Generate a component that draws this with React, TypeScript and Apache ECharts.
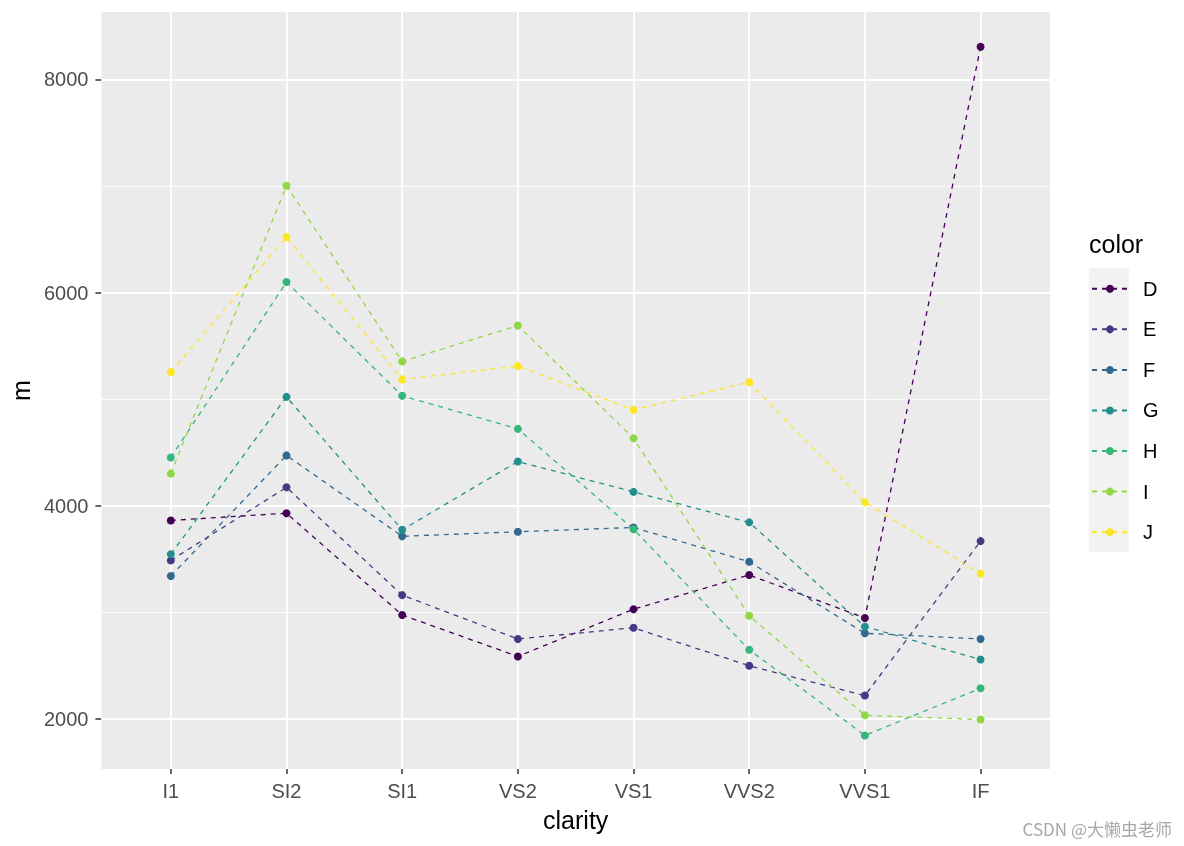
import React, { useEffect, useRef } from "react";
import * as echarts from "echarts";

const clarity = ["I1", "SI2", "SI1", "VS2", "VS1", "VVS2", "VVS1", "IF"];
const colorNames = ["D", "E", "F", "G", "H", "I", "J"];
const palette = ["#440154", "#443A83", "#31688E", "#21908C", "#35B779", "#8FD744", "#FDE725"];

const seriesD = [3863, 3931, 2976, 2587, 3030, 3351, 2948, 8307];
const seriesE = [3488, 4174, 3162, 2751, 2856, 2500, 2220, 3669];
const seriesF = [3342, 4473, 3714, 3757, 3797, 3475, 2804, 2751];
const seriesG = [3546, 5022, 3775, 4416, 4131, 3845, 2867, 2558];
const seriesH = [4453, 6100, 5032, 4722, 3781, 2649, 1846, 2288];
const seriesI = [4302, 7003, 5355, 5691, 4633, 2968, 2035, 1995];
const seriesJ = [5254, 6521, 5186, 5311, 4900, 5160, 4034, 3364];
const allSeries = [seriesD, seriesE, seriesF, seriesG, seriesH, seriesI, seriesJ];

const yMajor = [2000, 4000, 6000, 8000];
const yMinor = [3000, 5000, 7000];
const xTicks = [0, 1, 2, 3, 4, 5, 6, 7];

const FONT = "'Liberation Sans', Arial, sans-serif";

export default function App() {
  const ref = useRef<HTMLDivElement>(null);
  useEffect(() => {
    if (!ref.current) return;
    const chart = echarts.init(ref.current, undefined, { renderer: "svg" });
    const gridLines: any[] = [
      ...yMinor.map((v) => ({ yAxis: v, lineStyle: { color: "#ffffff", width: 0.9, type: "solid" } })),
      ...yMajor.map((v) => ({ yAxis: v, lineStyle: { color: "#ffffff", width: 1.8, type: "solid" } })),
      ...xTicks.map((v) => ({ xAxis: v, lineStyle: { color: "#ffffff", width: 1.8, type: "solid" } })),
    ];
    const hiddenLine = { show: true, onZero: false, lineStyle: { color: "rgba(0,0,0,0)", width: 0 } };
    const option: any = {
      animation: false,
      textStyle: { fontFamily: FONT },
      grid: {
        left: 101,
        top: 12,
        width: 949,
        height: 757,
        show: true,
        backgroundColor: "#EBEBEB",
        borderWidth: 0,
        containLabel: false,
      },
      xAxis: {
        type: "value",
        min: -0.6,
        max: 7.6,
        name: "clarity",
        nameLocation: "middle",
        nameGap: 38,
        nameTextStyle: { color: "#000000", fontSize: 25, fontFamily: FONT },
        axisLine: hiddenLine,
        axisTick: { show: true, length: 5, lineStyle: { color: "#333333", width: 1.5 }, customValues: xTicks },
        axisLabel: {
          color: "#4D4D4D",
          fontSize: 20,
          fontFamily: FONT,
          margin: 12,
          customValues: xTicks,
          formatter: (v: number) => (Number.isInteger(v) && clarity[v] !== undefined ? clarity[v] : ""),
        },
        splitLine: { show: false },
      },
      yAxis: {
        type: "value",
        min: 1531,
        max: 8633,
        name: "m",
        nameLocation: "middle",
        nameGap: 59,
        nameRotate: 90,
        nameTextStyle: { color: "#000000", fontSize: 25, fontFamily: FONT },
        axisLine: hiddenLine,
        axisTick: { show: true, length: 6, lineStyle: { color: "#333333", width: 1.5 }, customValues: yMajor },
        axisLabel: {
          color: "#4D4D4D",
          fontSize: 20,
          fontFamily: FONT,
          margin: 13,
          customValues: yMajor,
          formatter: (v: number) => (v % 2000 === 0 ? String(v) : ""),
        },
        splitLine: { show: false },
      },
      legend: {
        orient: "vertical",
        left: 1091,
        top: 278.8,
        padding: 0,
        itemWidth: 36,
        itemHeight: 10,
        itemGap: 20.56,
        data: colorNames,
        textStyle: { color: "#000000", fontSize: 20, fontFamily: FONT, padding: [0, 0, 0, 10] },
      },
      graphic: [
        {
          type: "rect",
          left: 1089,
          top: 268,
          shape: { width: 40, height: 284 },
          style: { fill: "#F2F2F2" },
          z: 0,
        },
        {
          type: "text",
          left: 1089,
          top: 231,
          style: { text: "color", fill: "#000000", fontSize: 25, fontFamily: FONT },
        },
        {
          type: "text",
          right: 12,
          top: 820,
          style: { text: "CSDN @大懒虫老师", fill: "#A8A8A8", fontSize: 17, fontFamily: "'Noto Sans CJK SC', sans-serif" },
        },
      ],
      series: [
        {
          type: "line",
          name: "__grid",
          data: [],
          z: 1,
          silent: true,
          markLine: {
            silent: true,
            z: 1,
            symbol: "none",
            label: { show: false },
            emphasis: { disabled: true },
            data: gridLines,
          },
        },
        ...allSeries.map((vals, i) => ({
          type: "line",
          name: colorNames[i],
          z: 3,
          data: vals.map((v, j) => [j, v]),
          symbol: "circle",
          symbolSize: 8,
          showSymbol: true,
          color: palette[i],
          lineStyle: { color: palette[i], width: 1.3, type: [5, 5] },
          itemStyle: { color: palette[i], borderWidth: 0 },
          emphasis: { disabled: true },
        })),
      ],
    };
    chart.setOption(option);
    return () => chart.dispose();
  }, []);
  return <div ref={ref} style={{ position: "fixed", left: 0, top: 0, width: 1184, height: 846 }} />;
}
